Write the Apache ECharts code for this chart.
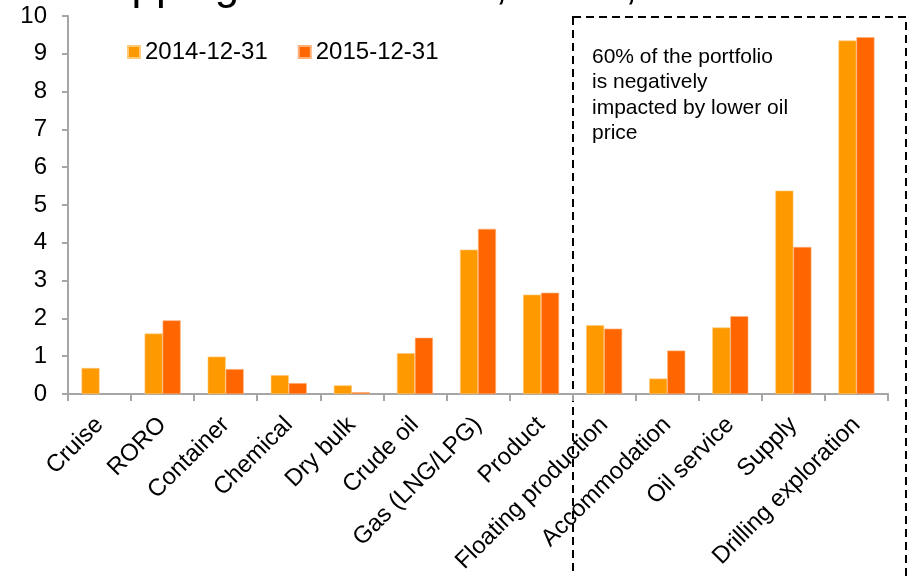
<!DOCTYPE html>
<html>
<head>
<meta charset="utf-8">
<script src="https://cdn.jsdelivr.net/npm/echarts@6/dist/echarts.min.js"></script>
<style>
  html, body { margin: 0; padding: 0; background: #fff; }
  #chart { width: 915px; height: 576px; }
</style>
</head>
<body>
<div id="chart"></div>
<script>
// Portfolio by segment, two year-end snapshots
const categories = [
  'Cruise', 'RORO', 'Container', 'Chemical', 'Dry bulk', 'Crude oil',
  'Gas (LNG/LPG)', 'Product', 'Floating production', 'Accommodation',
  'Oil service', 'Supply', 'Drilling exploration'
];
const seriesNames = ['2014-12-31', '2015-12-31'];
const values2014 = [0.69, 1.60, 0.99, 0.50, 0.23, 1.08, 3.82, 2.63, 1.82, 0.41, 1.76, 5.38, 9.35];
const values2015 = [0, 1.95, 0.66, 0.29, 0.05, 1.49, 4.37, 2.68, 1.73, 1.15, 2.06, 3.89, 9.44];
const yTicks = { min: 0, max: 10, interval: 1 };

const headline = 'Shipping and offshore, loans, NOK bn';
const note = '60% of the portfolio\nis negatively\nimpacted by lower oil\nprice';

const FONT = '"Liberation Sans", Arial, Helvetica, sans-serif';
const AXIS_GREY = '#A6A6A6';

// zero values get no outline so nothing shows on the baseline
const asBarData = (vals) => vals.map(v => (v === 0 ? { value: 0, itemStyle: { borderWidth: 0 } } : v));

const chart = echarts.init(document.getElementById('chart'), null, { renderer: 'canvas' });

chart.setOption({
  animation: false,
  backgroundColor: '#ffffff',
  textStyle: { fontFamily: FONT },
  grid: { left: 68, right: 27, top: 16, bottom: 180, containLabel: false },
  legend: {
    data: seriesNames,
    left: 122,
    top: 35,
    icon: 'rect',
    itemWidth: 12,
    itemHeight: 12,
    itemGap: 30,
    textStyle: { fontFamily: FONT, fontSize: 24, color: '#000' }
  },
  xAxis: {
    type: 'category',
    data: categories,
    axisLine: { show: true, lineStyle: { color: AXIS_GREY, width: 2 } },
    axisTick: { show: true, alignWithLabel: false, length: 7, lineStyle: { color: AXIS_GREY, width: 2 } },
    axisLabel: {
      interval: 0,
      rotate: 45,
      margin: 27,
      fontFamily: FONT,
      fontSize: 24,
      color: '#000'
    },
    splitLine: { show: false }
  },
  yAxis: {
    type: 'value',
    min: yTicks.min,
    max: yTicks.max,
    interval: yTicks.interval,
    axisLine: { show: true, lineStyle: { color: AXIS_GREY, width: 2 } },
    axisTick: { show: true, length: 6, lineStyle: { color: AXIS_GREY, width: 2 } },
    axisLabel: { margin: 21, fontFamily: FONT, fontSize: 24, color: '#000' },
    splitLine: { show: false }
  },
  series: [
    {
      name: seriesNames[0],
      type: 'bar',
      data: asBarData(values2014),
      barWidth: 18,
      barGap: '0%',
      itemStyle: { color: '#FF9900', borderColor: '#FFC97A', borderWidth: 0.6 }
    },
    {
      name: seriesNames[1],
      type: 'bar',
      data: asBarData(values2015),
      barWidth: 18,
      barGap: '0%',
      itemStyle: { color: '#FF6600', borderColor: '#FFB07A', borderWidth: 0.6 }
    }
  ],
  graphic: [
    {
      // heading sits mostly above the canvas edge; only its descenders show
      type: 'text',
      x: 68,
      y: 9,
      silent: true,
      style: {
        text: headline,
        font: '44px ' + FONT,
        fill: '#000',
        align: 'left',
        verticalAlign: 'bottom'
      }
    },
    {
      type: 'rect',
      silent: true,
      shape: { x: 573, y: 17, width: 333, height: 620 },
      style: { fill: 'none', stroke: '#000', lineWidth: 2, lineDash: [8, 5] }
    },
    {
      type: 'text',
      left: 592,
      top: 44,
      silent: true,
      style: { text: note, font: '21px ' + FONT, fill: '#000', lineHeight: 25.5 }
    }
  ]
});
</script>
</body>
</html>
